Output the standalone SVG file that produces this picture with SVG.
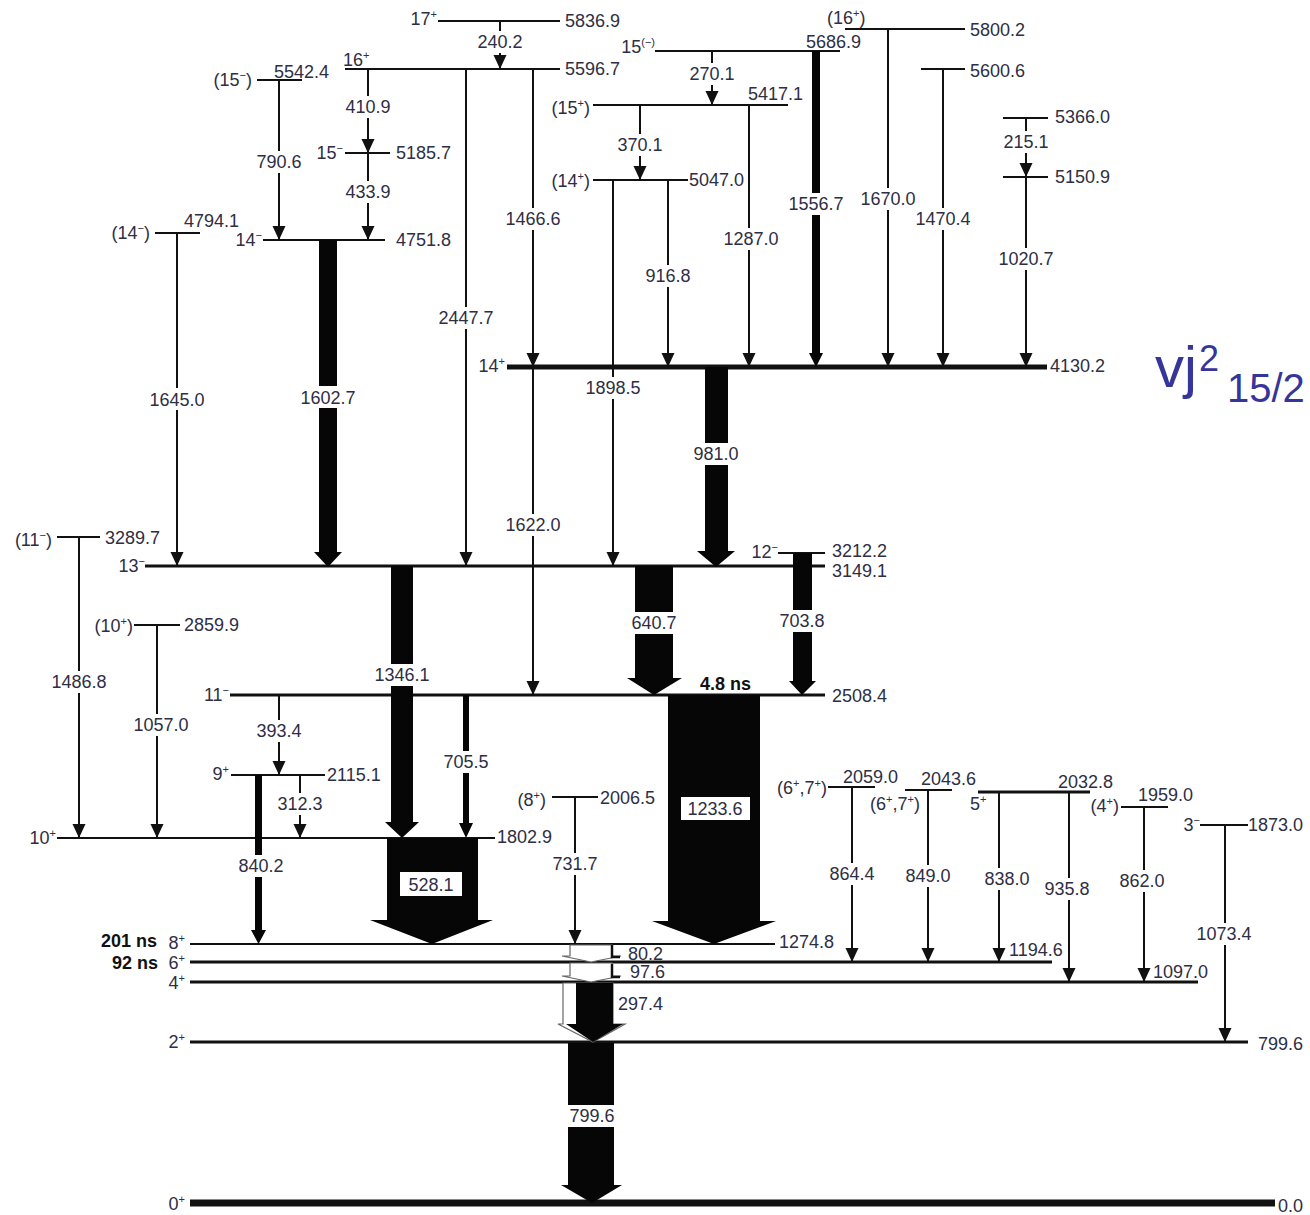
<svg xmlns="http://www.w3.org/2000/svg" width="1310" height="1215" viewBox="0 0 1310 1215">
<style>
.lv{stroke:#111;stroke-width:2;fill:none}
.l3{stroke-width:3}
.l5{stroke-width:5}
.l7{stroke-width:7}
.tr{stroke:#111;stroke-width:2;fill:none;marker-end:url(#ah)}
.fat{fill:#060606}
.open{fill:#fff;stroke:#666;stroke-width:1.2}
.t{font-family:"Liberation Sans",Arial,Helvetica,sans-serif;font-size:18px;fill:#2e2e44}
.e{text-anchor:end}
.m{text-anchor:middle}
.sup{font-size:11px}
.bg{fill:#fff}
.b{font-weight:bold;fill:#111}
.big{font-family:"Liberation Sans",Arial,Helvetica,sans-serif;fill:#35359a}
</style>
<defs>
<marker id="ah" viewBox="0 0 14 14" refX="14" refY="7" markerWidth="14" markerHeight="14" markerUnits="userSpaceOnUse" orient="auto"><path d="M0,0.5 L14,7 L0,13.5 z" fill="#111"/></marker>
</defs>
<rect width="1310" height="1215" fill="#fff"/>

<!-- levels -->
<g id="lvl-5836.9"><line class="lv" x1="438" y1="21" x2="560" y2="21"/><text class="t e" x="437" y="25">17<tspan class="sup" dy="-7">+</tspan></text><text class="t" x="565" y="27">5836.9</text></g>
<g id="lvl-5596.7"><line class="lv" x1="345" y1="69" x2="560" y2="69"/><text class="t" x="343" y="66">16<tspan class="sup" dy="-7">+</tspan></text><text class="t" x="565" y="75">5596.7</text></g>
<g id="lvl-5542.4"><line class="lv" x1="257" y1="80" x2="302" y2="80"/><text class="t e" x="252" y="86">(15<tspan class="sup" dy="-7">−</tspan><tspan dy="7">)</tspan></text><text class="t" x="274" y="78">5542.4</text></g>
<g id="lvl-5185.7"><line class="lv" x1="345" y1="153" x2="390" y2="153"/><text class="t e" x="343" y="159">15<tspan class="sup" dy="-7">−</tspan></text><text class="t" x="396" y="159">5185.7</text></g>
<g id="lvl-4751.8"><line class="lv" x1="263" y1="240" x2="385" y2="240"/><text class="t e" x="262" y="246">14<tspan class="sup" dy="-7">−</tspan></text><text class="t" x="396" y="246">4751.8</text></g>
<g id="lvl-4794.1"><line class="lv" x1="155" y1="233" x2="200" y2="233"/><text class="t e" x="150" y="239">(14<tspan class="sup" dy="-7">−</tspan><tspan dy="7">)</tspan></text><text class="t" x="184" y="227">4794.1</text></g>
<g id="lvl-5686.9"><line class="lv" x1="655" y1="51" x2="840" y2="51"/><text class="t e" x="655" y="53">15<tspan class="sup" dy="-7">(−)</tspan></text><text class="t" x="806" y="48">5686.9</text></g>
<g id="lvl-5417.1"><line class="lv" x1="593" y1="105" x2="788" y2="105"/><text class="t e" x="590" y="114">(15<tspan class="sup" dy="-7">+</tspan><tspan dy="7">)</tspan></text><text class="t" x="748" y="100">5417.1</text></g>
<g id="lvl-5047.0"><line class="lv" x1="593" y1="180" x2="688" y2="180"/><text class="t e" x="590" y="187">(14<tspan class="sup" dy="-7">+</tspan><tspan dy="7">)</tspan></text><text class="t" x="689" y="186">5047.0</text></g>
<g id="lvl-5800.2"><line class="lv" x1="845" y1="29" x2="965" y2="29"/><text class="t" x="827" y="24">(16<tspan class="sup" dy="-7">+</tspan><tspan dy="7">)</tspan></text><text class="t" x="970" y="36">5800.2</text></g>
<g id="lvl-5600.6"><line class="lv" x1="921" y1="69" x2="965" y2="69"/><text class="t" x="970" y="77">5600.6</text></g>
<g id="lvl-5366.0"><line class="lv" x1="1003" y1="118" x2="1048" y2="118"/><text class="t" x="1055" y="123">5366.0</text></g>
<g id="lvl-5150.9"><line class="lv" x1="1003" y1="177" x2="1048" y2="177"/><text class="t" x="1055" y="183">5150.9</text></g>
<g id="lvl-4130.2"><line class="lv l5" x1="507" y1="367" x2="1047" y2="367"/><text class="t e" x="505" y="372">14<tspan class="sup" dy="-7">+</tspan></text><text class="t" x="1050" y="372">4130.2</text></g>
<g id="lvl-3289.7"><line class="lv" x1="57" y1="537" x2="100" y2="537"/><text class="t e" x="52" y="546">(11<tspan class="sup" dy="-7">−</tspan><tspan dy="7">)</tspan></text><text class="t" x="105" y="544">3289.7</text></g>
<g id="lvl-3212.2"><line class="lv" x1="778" y1="553" x2="825" y2="553"/><text class="t e" x="778" y="558">12<tspan class="sup" dy="-7">−</tspan></text><text class="t" x="832" y="557">3212.2</text></g>
<g id="lvl-3149.1"><line class="lv l3" x1="145" y1="566" x2="825" y2="566"/><text class="t e" x="145" y="572">13<tspan class="sup" dy="-7">−</tspan></text><text class="t" x="832" y="577">3149.1</text></g>
<g id="lvl-2859.9"><line class="lv" x1="134" y1="625" x2="180" y2="625"/><text class="t e" x="133" y="632">(10<tspan class="sup" dy="-7">+</tspan><tspan dy="7">)</tspan></text><text class="t" x="184" y="631">2859.9</text></g>
<g id="lvl-2508.4"><line class="lv l3" x1="230" y1="695" x2="825" y2="695"/><text class="t e" x="229" y="701">11<tspan class="sup" dy="-7">−</tspan></text><text class="t" x="832" y="702">2508.4</text><text class="t b" x="700" y="690">4.8 ns</text></g>
<g id="lvl-2115.1"><line class="lv" x1="231" y1="775" x2="325" y2="775"/><text class="t e" x="229" y="780">9<tspan class="sup" dy="-7">+</tspan></text><text class="t" x="327" y="781">2115.1</text></g>
<g id="lvl-2006.5"><line class="lv" x1="552" y1="797" x2="598" y2="797"/><text class="t e" x="546" y="806">(8<tspan class="sup" dy="-7">+</tspan><tspan dy="7">)</tspan></text><text class="t" x="600" y="804">2006.5</text></g>
<g id="lvl-1802.9"><line class="lv" x1="57" y1="838" x2="495" y2="838"/><text class="t e" x="56" y="844">10<tspan class="sup" dy="-7">+</tspan></text><text class="t" x="497" y="843">1802.9</text></g>
<g id="lvl-2059.0"><line class="lv" x1="828" y1="787" x2="875" y2="787"/><text class="t e" x="827" y="794">(6<tspan class="sup" dy="-7">+</tspan><tspan dy="7">,7</tspan><tspan class="sup" dy="-7">+</tspan><tspan dy="7">)</tspan></text><text class="t" x="843" y="783">2059.0</text></g>
<g id="lvl-2043.6"><line class="lv" x1="905" y1="790" x2="952" y2="790"/><text class="t" x="870" y="810">(6<tspan class="sup" dy="-7">+</tspan><tspan dy="7">,7</tspan><tspan class="sup" dy="-7">+</tspan><tspan dy="7">)</tspan></text><text class="t" x="921" y="785">2043.6</text></g>
<g id="lvl-2032.8"><line class="lv l3" x1="978" y1="792" x2="1090" y2="792"/><text class="t" x="970" y="810">5<tspan class="sup" dy="-7">+</tspan></text><text class="t" x="1058" y="788">2032.8</text></g>
<g id="lvl-1959.0"><line class="lv" x1="1121" y1="807" x2="1168" y2="807"/><text class="t e" x="1119" y="812">(4<tspan class="sup" dy="-7">+</tspan><tspan dy="7">)</tspan></text><text class="t" x="1138" y="801">1959.0</text></g>
<g id="lvl-1873.0"><line class="lv" x1="1200" y1="825" x2="1248" y2="825"/><text class="t e" x="1200" y="831">3<tspan class="sup" dy="-7">−</tspan></text><text class="t" x="1248" y="831">1873.0</text></g>
<g id="lvl-1274.8"><line class="lv" x1="190" y1="944" x2="775" y2="944"/><text class="t b e" x="157" y="947">201 ns</text><text class="t e" x="185" y="949">8<tspan class="sup" dy="-7">+</tspan></text><text class="t" x="779" y="948">1274.8</text></g>
<g id="lvl-1194.6"><line class="lv l3" x1="190" y1="962" x2="1052" y2="962"/><text class="t b e" x="158" y="969">92 ns</text><text class="t e" x="185" y="969">6<tspan class="sup" dy="-7">+</tspan></text><text class="t" x="1009" y="956">1194.6</text></g>
<g id="lvl-1097.0"><line class="lv l3" x1="190" y1="982" x2="1198" y2="982"/><text class="t e" x="185" y="989">4<tspan class="sup" dy="-7">+</tspan></text><text class="t" x="1153" y="978">1097.0</text></g>
<g id="lvl-799.6"><line class="lv l3" x1="190" y1="1042" x2="1248" y2="1042"/><text class="t e" x="185" y="1048">2<tspan class="sup" dy="-7">+</tspan></text><text class="t" x="1258" y="1050">799.6</text></g>
<g id="lvl-0.0"><line class="lv l7" x1="190" y1="1203" x2="1275" y2="1203"/><text class="t e" x="185" y="1210">0<tspan class="sup" dy="-7">+</tspan></text><text class="t" x="1278" y="1212">0.0</text></g>

<!-- connectors -->
<g id="connectors">
<line class="tr" x1="500" y1="21" x2="500" y2="69"/>
<line class="tr" x1="368" y1="69" x2="368" y2="153"/>
<line class="tr" x1="368" y1="153" x2="368" y2="240"/>
<line class="tr" x1="279" y1="80" x2="279" y2="240"/>
<line class="tr" x1="177" y1="233" x2="177" y2="566"/>
<line class="tr" x1="466" y1="69" x2="466" y2="566"/>
<line class="tr" x1="533" y1="69" x2="533" y2="367"/>
<line class="tr" x1="640" y1="105" x2="640" y2="180"/>
<line class="tr" x1="712" y1="51" x2="712" y2="105"/>
<line class="tr" x1="613" y1="180" x2="613" y2="566"/>
<line class="tr" x1="668" y1="180" x2="668" y2="367"/>
<line class="tr" x1="749" y1="105" x2="749" y2="367"/>
<line class="tr" x1="888" y1="29" x2="888" y2="367"/>
<line class="tr" x1="943" y1="69" x2="943" y2="367"/>
<line class="tr" x1="1026" y1="118" x2="1026" y2="177"/>
<line class="tr" x1="1026" y1="177" x2="1026" y2="367"/>
<line class="tr" x1="533" y1="367" x2="533" y2="695"/>
<line class="tr" x1="79" y1="537" x2="79" y2="838"/>
<line class="tr" x1="157" y1="625" x2="157" y2="838"/>
<line class="tr" x1="279" y1="695" x2="279" y2="775"/>
<line class="tr" x1="300" y1="775" x2="300" y2="838"/>
<line class="tr" x1="575" y1="797" x2="575" y2="944"/>
<line class="tr" x1="852" y1="787" x2="852" y2="962"/>
<line class="tr" x1="928" y1="790" x2="928" y2="962"/>
<line class="tr" x1="999" y1="792" x2="999" y2="962"/>
<line class="tr" x1="1069" y1="792" x2="1069" y2="982"/>
<line class="tr" x1="1144" y1="807" x2="1144" y2="982"/>
<line class="tr" x1="1225" y1="825" x2="1225" y2="1042"/>
<path class="fat" d="M812,51 H820 V353 H823 L816,367 L809,353 H812 Z"/>
<path class="fat" d="M255,775 H262 V930 H266 L258.5,944 L251,930 H255 Z"/>
<path class="fat" d="M463,695 H469 V823 H473 L466,838 L459,823 H463 Z"/>
<path class="fat" d="M319,240 H337 V552 H342 L328,567 L314,552 H319 Z"/>
<path class="fat" d="M705,367 H728 V551 H735 L716,567 L697,551 H705 Z"/>
<path class="fat" d="M391,566 H413 V822 H419 L402,838 L385,822 H391 Z"/>
<path class="fat" d="M635,566 H673 V678 H682 L654,695 L627,678 H635 Z"/>
<path class="fat" d="M793,553 H812 V681 H816 L802,695 L789,681 H793 Z"/>
<path class="fat" d="M387,838 H478 V920 H493 L432,944 L370,920 H387 Z"/>
<path class="fat" d="M668,695 H760 V921 H776 L714,944 L652,921 H668 Z"/>
<path class="open" d="M570,945 H612 V956 H621 L591,962 L562,956 H570 Z"/>
<path d="M612,945 V957 H620" stroke="#111" stroke-width="2.5" fill="none"/>
<path class="open" d="M570,963 H612 V976 H621 L591,982 L562,976 H570 Z"/>
<path d="M612,964 V977 H620" stroke="#111" stroke-width="2.5" fill="none"/>
<path class="open" d="M563,983 H613 V1024 H625 L593,1042 L558,1024 H563 Z"/>
<path class="fat" d="M576,983 H613 V1024 H623 L593,1042 L566,1024 H576 Z"/>
<path class="fat" d="M568,1043 H614 V1185 H622 L592,1203 L561,1185 H568 Z"/>

<!-- transition labels -->
<rect class="bg" x="476" y="31" width="48" height="22"/><text class="t m" x="500" y="48">240.2</text>
<rect class="bg" x="344" y="96" width="48" height="22"/><text class="t m" x="368" y="113">410.9</text>
<rect class="bg" x="344" y="181" width="48" height="22"/><text class="t m" x="368" y="198">433.9</text>
<rect class="bg" x="255" y="151" width="48" height="22"/><text class="t m" x="279" y="168">790.6</text>
<rect class="bg" x="149" y="388" width="58" height="22"/><text class="t m" x="177" y="406">1645.0</text>
<rect class="bg" x="299" y="386" width="58" height="22"/><text class="t m" x="328" y="404">1602.7</text>
<rect class="bg" x="437" y="307" width="58" height="22"/><text class="t m" x="466" y="324">2447.7</text>
<rect class="bg" x="504" y="208" width="58" height="22"/><text class="t m" x="533" y="225">1466.6</text>
<rect class="bg" x="616" y="134" width="48" height="22"/><text class="t m" x="640" y="151">370.1</text>
<rect class="bg" x="688" y="63" width="48" height="22"/><text class="t m" x="712" y="80">270.1</text>
<rect class="bg" x="584" y="377" width="58" height="22"/><text class="t m" x="613" y="394">1898.5</text>
<rect class="bg" x="644" y="265" width="48" height="22"/><text class="t m" x="668" y="282">916.8</text>
<rect class="bg" x="722" y="228" width="58" height="22"/><text class="t m" x="751" y="245">1287.0</text>
<rect class="bg" x="787" y="193" width="58" height="22"/><text class="t m" x="816" y="210">1556.7</text>
<rect class="bg" x="859" y="188" width="58" height="22"/><text class="t m" x="888" y="205">1670.0</text>
<rect class="bg" x="914" y="208" width="58" height="22"/><text class="t m" x="943" y="225">1470.4</text>
<rect class="bg" x="1002" y="131" width="48" height="22"/><text class="t m" x="1026" y="148">215.1</text>
<rect class="bg" x="997" y="248" width="58" height="22"/><text class="t m" x="1026" y="265">1020.7</text>
<rect class="bg" x="692" y="443" width="48" height="22"/><text class="t m" x="716" y="460">981.0</text>
<rect class="bg" x="504" y="514" width="58" height="22"/><text class="t m" x="533" y="531">1622.0</text>
<rect class="bg" x="373" y="664" width="58" height="22"/><text class="t m" x="402" y="681">1346.1</text>
<rect class="bg" x="630" y="612" width="48" height="22"/><text class="t m" x="654" y="629">640.7</text>
<rect class="bg" x="778" y="610" width="48" height="22"/><text class="t m" x="802" y="627">703.8</text>
<rect class="bg" x="50" y="671" width="58" height="22"/><text class="t m" x="79" y="688">1486.8</text>
<rect class="bg" x="132" y="714" width="58" height="22"/><text class="t m" x="161" y="731">1057.0</text>
<rect class="bg" x="255" y="720" width="48" height="22"/><text class="t m" x="279" y="737">393.4</text>
<rect class="bg" x="276" y="793" width="48" height="22"/><text class="t m" x="300" y="810">312.3</text>
<rect class="bg" x="442" y="751" width="48" height="22"/><text class="t m" x="466" y="768">705.5</text>
<rect class="bg" x="237" y="855" width="48" height="22"/><text class="t m" x="261" y="872">840.2</text>
<rect class="bg" x="551" y="853" width="48" height="22"/><text class="t m" x="575" y="870">731.7</text>
<rect class="bg" x="400" y="872" width="62" height="24"/><text class="t m" x="431" y="891">528.1</text>
<rect class="bg" x="681" y="797" width="69" height="23"/><text class="t m" x="715" y="815">1233.6</text>
<rect class="bg" x="828" y="863" width="48" height="22"/><text class="t m" x="852" y="880">864.4</text>
<rect class="bg" x="904" y="865" width="48" height="22"/><text class="t m" x="928" y="882">849.0</text>
<rect class="bg" x="983" y="868" width="48" height="22"/><text class="t m" x="1007" y="885">838.0</text>
<rect class="bg" x="1043" y="878" width="48" height="22"/><text class="t m" x="1067" y="895">935.8</text>
<rect class="bg" x="1118" y="870" width="48" height="22"/><text class="t m" x="1142" y="887">862.0</text>
<rect class="bg" x="1195" y="923" width="58" height="22"/><text class="t m" x="1224" y="940">1073.4</text>
<rect class="bg" x="568" y="1105" width="48" height="22"/><text class="t m" x="592" y="1122">799.6</text>
<text class="t" x="628" y="960">80.2</text>
<text class="t" x="630" y="978">97.6</text>
<text class="t" x="618" y="1010">297.4</text>
</g>

<g id="title">
<text class="big" x="1155" y="387" font-size="58">vj</text>
<text class="big" x="1199" y="371" font-size="36">2</text>
<text class="big" x="1227" y="402" font-size="40">15/2</text>
</g>
</svg>
